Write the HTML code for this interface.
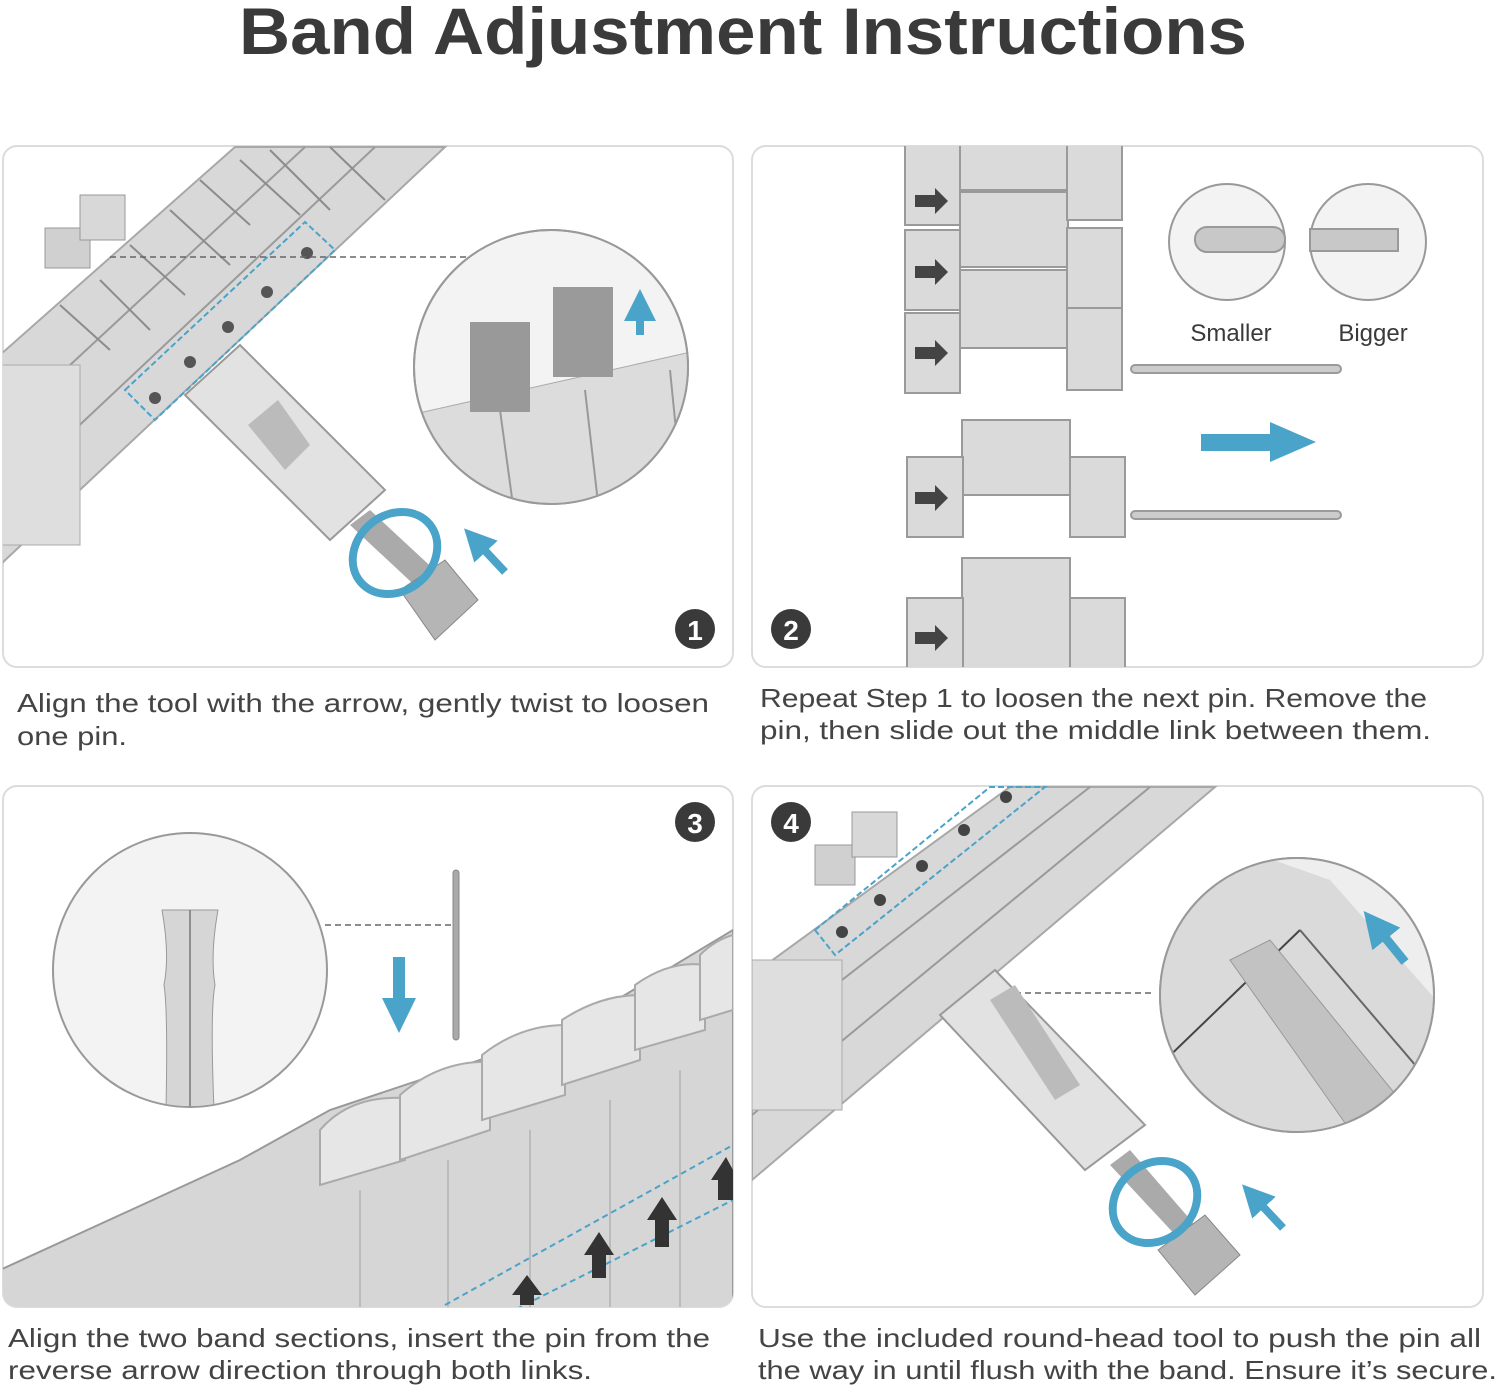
<!DOCTYPE html>
<html><head><meta charset="utf-8"><style>
html,body{margin:0;padding:0;background:#fff;}
svg{display:block;font-family:"Liberation Sans",sans-serif;}
</style></head><body>
<svg width="1500" height="1390" viewBox="0 0 1500 1390" xmlns="http://www.w3.org/2000/svg">
<defs>
<clipPath id="c1"><rect x="3" y="146" width="730" height="521" rx="14"/></clipPath>
<clipPath id="c2"><rect x="752" y="146" width="731" height="521" rx="14"/></clipPath>
<clipPath id="c3"><rect x="3" y="786" width="730" height="521" rx="14"/></clipPath>
<clipPath id="c4"><rect x="752" y="786" width="731" height="521" rx="14"/></clipPath>
<clipPath id="m1"><circle cx="551" cy="367" r="136"/></clipPath>
<clipPath id="m3"><circle cx="190" cy="970" r="136"/></clipPath>
<clipPath id="m4"><circle cx="1297" cy="995" r="136"/></clipPath>
<marker id="ah" viewBox="0 0 10 10" refX="5" refY="5" markerWidth="4" markerHeight="4" orient="auto"><path d="M0,0L10,5L0,10z" fill="#4aa3c8"/></marker>
</defs>

<text x="743" y="54" text-anchor="middle" font-size="66" font-weight="bold" fill="#3a3a3a" textLength="1008" lengthAdjust="spacingAndGlyphs">Band Adjustment Instructions</text>

<rect x="3" y="146" width="730" height="521" rx="14" fill="#fff" stroke="#dcdcdc" stroke-width="2"/>
<rect x="752" y="146" width="731" height="521" rx="14" fill="#fff" stroke="#dcdcdc" stroke-width="2"/>
<rect x="3" y="786" width="730" height="521" rx="14" fill="#fff" stroke="#dcdcdc" stroke-width="2"/>
<rect x="752" y="786" width="731" height="521" rx="14" fill="#fff" stroke="#dcdcdc" stroke-width="2"/>

<!-- PANEL 1 -->
<g clip-path="url(#c1)">
  <polygon points="235,147 445,147 0,565 0,355" fill="#d8d8d8" stroke="#a8a8a8" stroke-width="2"/>
  <line x1="305" y1="147" x2="0" y2="430" stroke="#9a9a9a" stroke-width="2"/>
  <line x1="375" y1="147" x2="0" y2="500" stroke="#9a9a9a" stroke-width="2"/>
  <g stroke="#8c8c8c" stroke-width="2">
    <line x1="200" y1="180" x2="250" y2="225"/><line x1="240" y1="160" x2="300" y2="215"/>
    <line x1="130" y1="245" x2="185" y2="295"/><line x1="170" y1="210" x2="230" y2="265"/>
    <line x1="60" y1="305" x2="110" y2="350"/><line x1="100" y1="280" x2="150" y2="330"/>
    <line x1="330" y1="147" x2="385" y2="200"/><line x1="270" y1="150" x2="330" y2="210"/>
  </g>
  <rect x="0" y="365" width="80" height="180" fill="#dedede" stroke="#aaa"/>
  <rect x="45" y="228" width="45" height="40" fill="#d0d0d0" stroke="#999"/>
  <rect x="80" y="195" width="45" height="45" fill="#d8d8d8" stroke="#999"/>
  <polygon points="125,390 305,222 335,250 155,420" fill="none" stroke="#4aa3c8" stroke-width="2" stroke-dasharray="6,3"/>
  <g fill="#555"><circle cx="155" cy="398" r="6"/><circle cx="190" cy="362" r="6"/><circle cx="228" cy="327" r="6"/><circle cx="267" cy="292" r="6"/><circle cx="307" cy="253" r="6"/></g>
  <line x1="110" y1="257" x2="468" y2="257" stroke="#666" stroke-width="1.5" stroke-dasharray="6,4"/>
  <polygon points="185,395 240,345 385,490 330,540" fill="#e2e2e2" stroke="#999" stroke-width="2"/>
  <polygon points="248,425 278,400 310,445 285,470" fill="#bbb"/>
  <polygon points="350,525 370,510 440,575 425,595" fill="#aaa"/>
  <polygon points="400,590 445,560 478,600 435,640" fill="#b5b5b5" stroke="#888"/>
  <ellipse cx="395" cy="553" rx="45" ry="38" fill="none" stroke="#4aa3c8" stroke-width="8" transform="rotate(-40 395 553)"/>
  <line x1="505" y1="572" x2="475" y2="540" stroke="#4aa3c8" stroke-width="8" marker-end="url(#ah)"/>
  <circle cx="551" cy="367" r="137" fill="#f3f3f3" stroke="#999" stroke-width="2"/>
  <g clip-path="url(#m1)">
    <polygon points="410,415 700,350 700,520 410,520" fill="#dcdcdc" stroke="#aaa"/>
    <g stroke="#999" stroke-width="2"><line x1="500" y1="410" x2="515" y2="520"/><line x1="585" y1="390" x2="600" y2="520"/><line x1="670" y1="370" x2="685" y2="520"/></g>
    <rect x="470" y="322" width="60" height="90" fill="#999"/>
    <rect x="553" y="287" width="60" height="90" fill="#9a9a9a"/>
  </g>
  <circle cx="551" cy="367" r="137" fill="none" stroke="#999" stroke-width="2"/>
  <line x1="640" y1="335" x2="640" y2="305" stroke="#4aa3c8" stroke-width="8" marker-end="url(#ah)"/>
  <circle cx="695" cy="629" r="20" fill="#3a3a3a"/>
  <text x="695" y="640" text-anchor="middle" font-size="28" font-weight="bold" fill="#fff">1</text>
</g>

<!-- PANEL 2 -->
<g clip-path="url(#c2)" fill="#dadada" stroke="#9a9a9a" stroke-width="2">
  <rect x="905" y="140" width="55" height="85"/><rect x="905" y="230" width="55" height="80"/><rect x="905" y="313" width="55" height="80"/>
  <rect x="960" y="140" width="108" height="50"/><rect x="960" y="192" width="108" height="75"/><rect x="960" y="270" width="108" height="78"/>
  <rect x="1067" y="140" width="55" height="80"/><rect x="1067" y="228" width="55" height="80"/><rect x="1067" y="308" width="55" height="82"/>
  <rect x="962" y="420" width="108" height="75"/><rect x="907" y="457" width="56" height="80"/><rect x="1070" y="457" width="55" height="80"/>
  <rect x="962" y="558" width="108" height="110"/><rect x="907" y="598" width="56" height="70"/><rect x="1070" y="598" width="55" height="70"/>
  <rect x="1131" y="365" width="210" height="8" rx="4" fill="#ccc"/>
  <rect x="1131" y="511" width="210" height="8" rx="4" fill="#ccc"/>
  <circle cx="1227" cy="242" r="58" fill="#f3f3f3" stroke="#999"/>
  <circle cx="1368" cy="242" r="58" fill="#f3f3f3" stroke="#999"/>
  <rect x="1195" y="227" width="90" height="25" rx="12" fill="#c8c8c8" stroke="#999"/>
  <rect x="1310" y="229" width="88" height="22" fill="#c8c8c8" stroke="#999"/>
</g>
<g fill="#444">
  <polygon points="915,195 935,195 935,188 948,201 935,214 935,207 915,207"/>
  <polygon points="915,266 935,266 935,259 948,272 935,285 935,278 915,278"/>
  <polygon points="915,347 935,347 935,340 948,353 935,366 935,359 915,359"/>
  <polygon points="915,492 935,492 935,485 948,498 935,511 935,504 915,504"/>
  <polygon points="915,632 935,632 935,625 948,638 935,651 935,644 915,644"/>
</g>
<polygon points="1201,434 1270,434 1270,422 1316,442 1270,462 1270,451 1201,451" fill="#4aa3c8"/>
<text x="1231" y="341" text-anchor="middle" font-size="24" fill="#3a3a3a">Smaller</text>
<text x="1373" y="341" text-anchor="middle" font-size="24" fill="#3a3a3a">Bigger</text>
<circle cx="791" cy="629" r="20" fill="#3a3a3a"/>
<text x="791" y="640" text-anchor="middle" font-size="28" font-weight="bold" fill="#fff">2</text>

<!-- PANEL 3 -->
<g clip-path="url(#c3)">
  <polygon points="0,1270 240,1160 330,1110 480,1060 600,1010 733,930 733,1310 0,1310" fill="#d6d6d6" stroke="#999" stroke-width="2"/>
  <g fill="#e6e6e6" stroke="#aaa" stroke-width="2">
    <path d="M320,1185 L320,1130 Q350,1095 405,1098 L405,1160 Z"/>
    <path d="M400,1160 L400,1095 Q440,1060 490,1062 L490,1130 Z"/>
    <path d="M482,1120 L482,1055 Q520,1025 565,1025 L565,1095 Z"/>
    <path d="M562,1085 L562,1020 Q600,995 640,995 L640,1060 Z"/>
    <path d="M635,1050 L635,985 Q670,960 705,965 L705,1030 Z"/>
    <path d="M700,1020 L700,955 Q715,940 733,935 L733,1010 Z"/>
  </g>
  <g stroke="#bbb" stroke-width="2">
    <line x1="360" y1="1190" x2="360" y2="1310"/><line x1="448" y1="1160" x2="448" y2="1310"/><line x1="530" y1="1130" x2="530" y2="1310"/>
    <line x1="610" y1="1100" x2="610" y2="1310"/><line x1="680" y1="1070" x2="680" y2="1310"/>
  </g>
  <line x1="445" y1="1305" x2="733" y2="1145" stroke="#4aa3c8" stroke-width="2" stroke-dasharray="6,4"/>
  <line x1="445" y1="1345" x2="733" y2="1200" stroke="#4aa3c8" stroke-width="2" stroke-dasharray="6,4"/>
  <g fill="#333">
    <polygon points="520,1305 520,1295 512,1295 527,1275 542,1295 534,1295 534,1305"/>
    <polygon points="592,1278 592,1255 584,1255 599,1232 614,1255 606,1255 606,1278"/>
    <polygon points="655,1247 655,1220 647,1220 662,1197 677,1220 669,1220 669,1247"/>
    <polygon points="718,1200 718,1180 711,1180 726,1157 733,1170 733,1200"/>
  </g>
  <circle cx="190" cy="970" r="137" fill="#f3f3f3" stroke="#999" stroke-width="2"/>
  <g clip-path="url(#m3)">
    <path d="M162,910 L218,910 Q210,955 215,985 Q210,1010 214,1110 L166,1110 Q168,1010 164,985 Q170,955 162,910Z" fill="#d6d6d6" stroke="#999"/>
    <line x1="190" y1="910" x2="190" y2="1110" stroke="#777" stroke-width="1.5"/>
  </g>
  <line x1="325" y1="925" x2="455" y2="925" stroke="#666" stroke-width="1.5" stroke-dasharray="6,4"/>
  <rect x="453" y="870" width="6" height="170" rx="3" fill="#aaa" stroke="#888"/>
  <polygon points="393,957 405,957 405,998 416,998 399,1033 382,998 393,998" fill="#4aa3c8"/>
  <circle cx="695" cy="822" r="20" fill="#3a3a3a"/>
  <text x="695" y="833" text-anchor="middle" font-size="28" font-weight="bold" fill="#fff">3</text>
</g>

<!-- PANEL 4 -->
<g clip-path="url(#c4)">
  <polygon points="752,975 1010,787 1215,787 752,1180" fill="#d8d8d8" stroke="#a8a8a8" stroke-width="2"/>
  <line x1="1090" y1="787" x2="752" y2="1050" stroke="#9a9a9a" stroke-width="2"/>
  <line x1="1150" y1="787" x2="752" y2="1115" stroke="#9a9a9a" stroke-width="2"/>
  <rect x="752" y="960" width="90" height="150" fill="#dedede" stroke="#aaa"/>
  <rect x="815" y="845" width="40" height="40" fill="#d0d0d0" stroke="#999"/>
  <rect x="852" y="812" width="45" height="45" fill="#d8d8d8" stroke="#999"/>
  <polygon points="815,930 990,787 1045,787 835,955" fill="none" stroke="#4aa3c8" stroke-width="2" stroke-dasharray="6,3"/>
  <g fill="#444"><circle cx="842" cy="932" r="6"/><circle cx="880" cy="900" r="6"/><circle cx="922" cy="866" r="6"/><circle cx="964" cy="830" r="6"/><circle cx="1006" cy="797" r="6"/></g>
  <line x1="1005" y1="993" x2="1155" y2="993" stroke="#666" stroke-width="1.5" stroke-dasharray="6,4"/>
  <polygon points="940,1015 995,970 1145,1125 1085,1170" fill="#e2e2e2" stroke="#999" stroke-width="2"/>
  <polygon points="990,1000 1015,985 1080,1085 1055,1100" fill="#bbb"/>
  <polygon points="1110,1165 1130,1150 1195,1225 1180,1240" fill="#aaa"/>
  <polygon points="1158,1250 1205,1215 1240,1255 1195,1295" fill="#b5b5b5" stroke="#888"/>
  <ellipse cx="1155" cy="1202" rx="45" ry="38" fill="none" stroke="#4aa3c8" stroke-width="8" transform="rotate(-40 1155 1202)"/>
  <line x1="1283" y1="1228" x2="1253" y2="1196" stroke="#4aa3c8" stroke-width="8" marker-end="url(#ah)"/>
  <circle cx="1297" cy="995" r="137" fill="#f3f3f3" stroke="#999" stroke-width="2"/>
  <g clip-path="url(#m4)">
    <rect x="1155" y="850" width="290" height="300" fill="#dadada"/>
    <polygon points="1245,850 1445,850 1445,1010 1330,880" fill="#eeeeee"/>
    <line x1="1155" y1="1070" x2="1300" y2="930" stroke="#444" stroke-width="2"/>
    <line x1="1300" y1="930" x2="1445" y2="1100" stroke="#666" stroke-width="2"/>
    <polygon points="1230,960 1270,940 1400,1100 1350,1130" fill="#c2c2c2" stroke="#999"/>
  </g>
  <circle cx="1297" cy="995" r="137" fill="none" stroke="#999" stroke-width="2"/>
  <line x1="1405" y1="962" x2="1375" y2="925" stroke="#4aa3c8" stroke-width="9" marker-end="url(#ah)"/>
  <circle cx="791" cy="822" r="20" fill="#3a3a3a"/>
  <text x="791" y="833" text-anchor="middle" font-size="28" font-weight="bold" fill="#fff">4</text>
</g>

<g font-size="26" fill="#444">
  <text x="17" y="712" textLength="692" lengthAdjust="spacingAndGlyphs">Align the tool with the arrow, gently twist to loosen</text>
  <text x="17" y="745" textLength="110" lengthAdjust="spacingAndGlyphs">one pin.</text>
  <text x="760" y="707" textLength="667" lengthAdjust="spacingAndGlyphs">Repeat Step 1 to loosen the next pin. Remove the</text>
  <text x="760" y="739" textLength="671" lengthAdjust="spacingAndGlyphs">pin, then slide out the middle link between them.</text>
  <text x="8" y="1347" textLength="702" lengthAdjust="spacingAndGlyphs">Align the two band sections, insert the pin from the</text>
  <text x="8" y="1379" textLength="584" lengthAdjust="spacingAndGlyphs">reverse arrow direction through both links.</text>
  <text x="758" y="1347" textLength="723" lengthAdjust="spacingAndGlyphs">Use the included round-head tool to push the pin all</text>
  <text x="758" y="1379" textLength="739" lengthAdjust="spacingAndGlyphs">the way in until flush with the band. Ensure it’s secure.</text>
</g>
</svg>
</body></html>
